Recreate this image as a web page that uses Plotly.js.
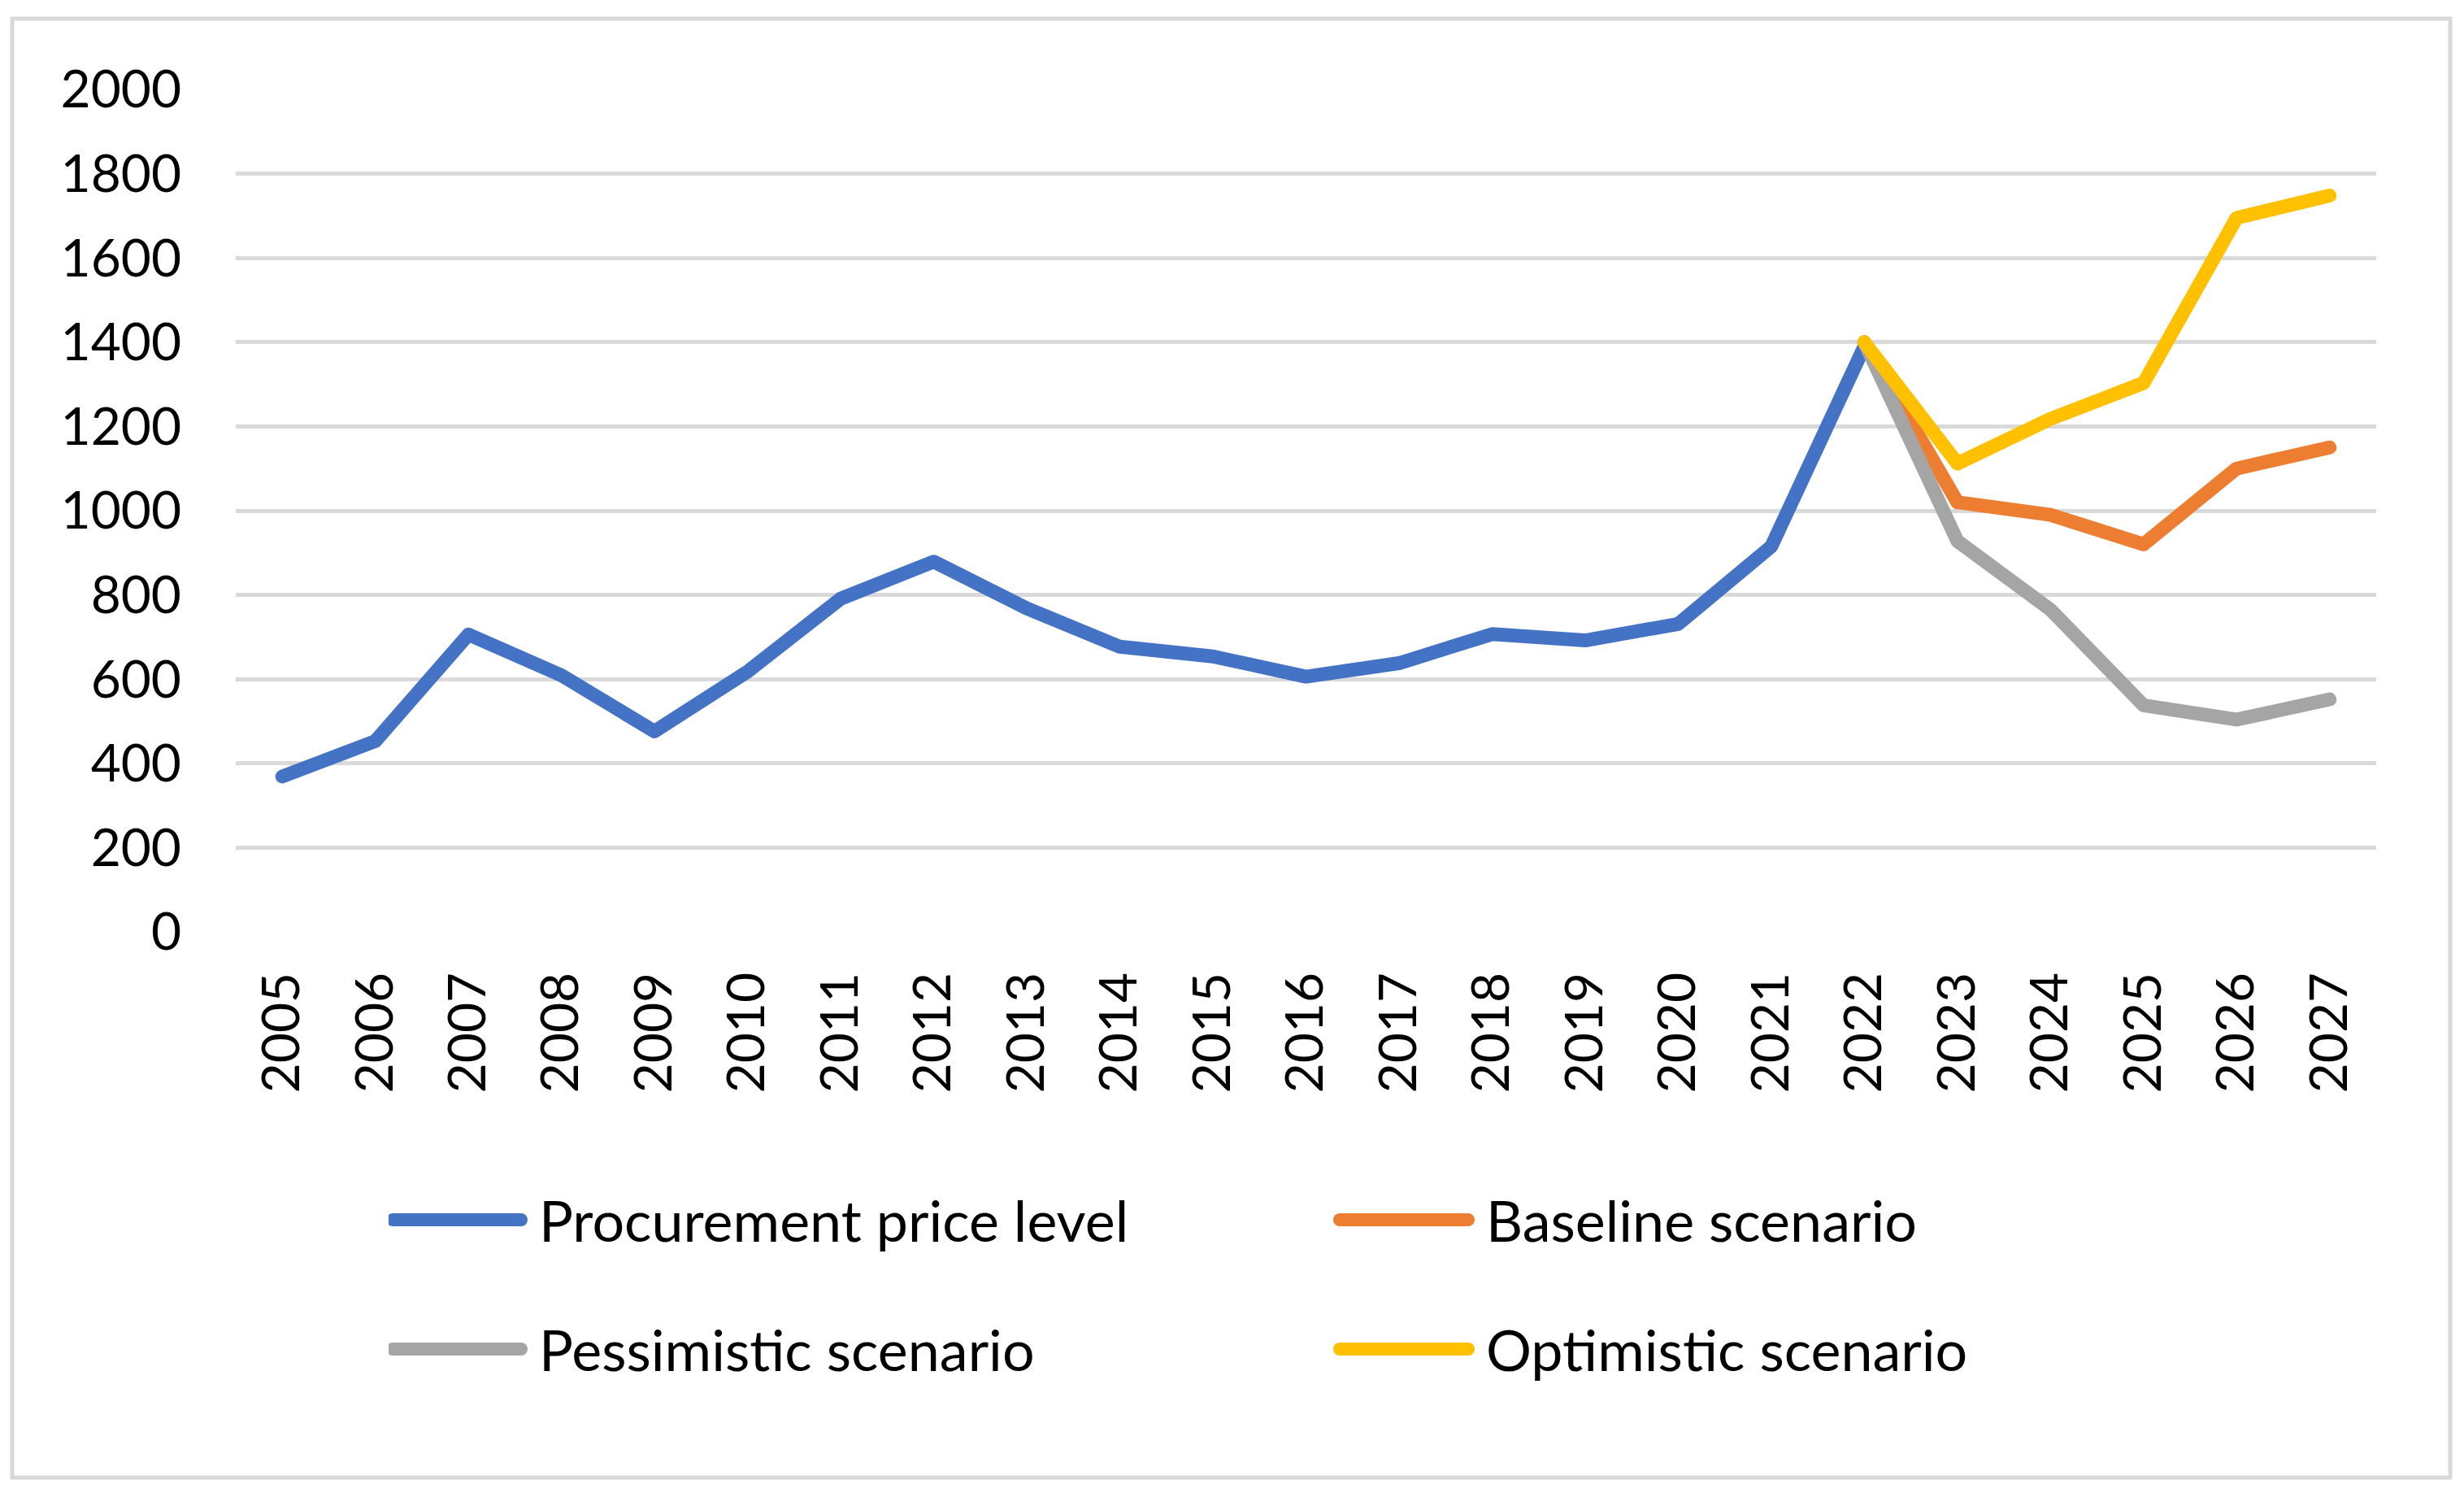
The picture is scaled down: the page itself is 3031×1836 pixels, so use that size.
<!DOCTYPE html>
<html>
<head>
<meta charset="utf-8">
<script src="https://cdn.plot.ly/plotly-3.0.1.min.js"></script>
<style>
html,body{margin:0;padding:0;background:#fff;}
#chart{width:3031px;height:1836px;}
#chart .scatterlayer .js-line{stroke-linecap:round !important;stroke-linejoin:round !important;}
#chart .legendlines path{stroke-width:16px !important;stroke-linecap:round !important;d:path("M5,0h158");}
</style>
</head>
<body>
<div id="chart"></div>
<script>
var years = ['2005','2006','2007','2008','2009','2010','2011','2012','2013','2014','2015','2016','2017','2018','2019','2020','2021','2022','2023','2024','2025','2026','2027'];
var procurement = [369, 453, 706, 609, 476, 618, 791, 879, 768, 677, 654, 606, 638, 707, 692, 731, 915, 1390, null, null, null, null, null];
var baseline    = [null,null,null,null,null,null,null,null,null,null,null,null,null,null,null,null,null, 1400, 1020, 990, 920, 1100, 1150];
var pessimistic = [null,null,null,null,null,null,null,null,null,null,null,null,null,null,null,null,null, 1400, 928, 765, 538, 504, 552];
var optimistic  = [null,null,null,null,null,null,null,null,null,null,null,null,null,null,null,null,null, 1400, 1112, 1218, 1303, 1695, 1748];
var yTicks = [0,200,400,600,800,1000,1200,1400,1600,1800,2000];

var FONT = 'Lato, "Liberation Sans", sans-serif';
var FS = 64;
var LFS = 70;
var LW = 17;

function tr(name, y, color, legend) {
  return {type:'scatter', mode:'lines', x: years, y: y, name: name, legend: legend,
    line:{color: color, width: LW, shape:'linear'}, connectgaps:false, hoverinfo:'skip'};
}
var data = [
  tr('Procurement price level', procurement, '#4472C4', 'legend'),
  tr('Baseline scenario', baseline, '#ED7D31', 'legend'),
  tr('Pessimistic scenario', pessimistic, '#A5A5A5', 'legend2'),
  tr('Optimistic scenario', optimistic, '#FFC000', 'legend2')
];

var L = 290, R = 2923, T = 110, B = 1146;
var PW = R - L, PH = B - T;
function px(x){ return (x - L) / PW; }
function py(y){ return (B - y) / PH; }

var legendCommon = {
  orientation:'h', xanchor:'left', yanchor:'middle',
  font:{family: FONT, size: LFS, color:'#000'},
  itemwidth: 175, entrywidth: 975, entrywidthmode:'pixels',
  bgcolor:'rgba(0,0,0,0)', borderwidth:0, itemclick:false, itemdoubleclick:false
};

var layout = {
  width: 3031, height: 1836,
  margin:{l: L, r: 3031 - R, t: T, b: 1836 - B, pad:0},
  paper_bgcolor:'#fff', plot_bgcolor:'#fff',
  font:{family: FONT, size: FS, color:'#000'},
  showlegend:true,
  xaxis:{type:'category', range:[-0.5, 22.5], tickangle:-90, showgrid:false, zeroline:false,
    showline:false, ticks:'', ticklabelstandoff: 36, tickfont:{family: FONT, size: FS, color:'#000'},
    fixedrange:true},
  yaxis:{range:[0, 2000], tickvals: yTicks, ticktext: yTicks.map(String), showgrid:true, gridcolor:'#D9D9D9', gridwidth:5,
    zeroline:false, showline:false, ticks:'', ticklabelstandoff: 66, tickfont:{family: FONT, size: FS, color:'#000'},
    fixedrange:true},
  legend: Object.assign({}, legendCommon, {x: px(478), y: py(1500)}),
  legend2: Object.assign({}, legendCommon, {x: px(478), y: py(1659)}),
  shapes:[{type:'rect', xref:'paper', yref:'paper', x0: px(15), x1: px(3014), y0: py(1817), y1: py(23),
    line:{color:'#D9D9D9', width:5}, fillcolor:'rgba(0,0,0,0)', layer:'below'}]
};

Plotly.newPlot('chart', data, layout, {staticPlot:true, displayModeBar:false});
</script>
</body>
</html>
